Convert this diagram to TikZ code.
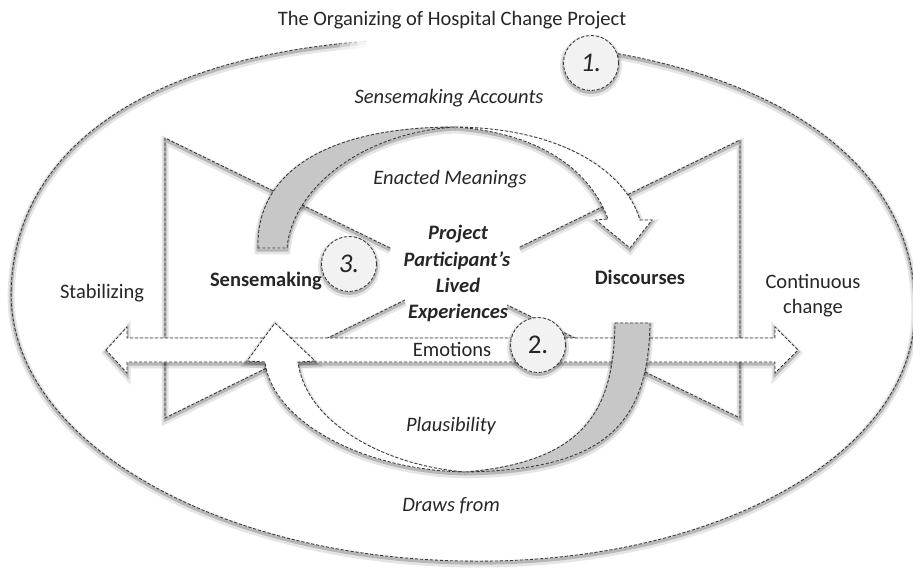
\documentclass[tikz,border=0pt]{standalone}
\usepackage{fontspec}
\setmainfont{Carlito}
\begin{document}
\begin{tikzpicture}[x=1pt,y=-1pt,
  ln/.style={draw=black!78, line width=0.85pt, dash pattern=on 3.2pt off 1.8pt, line join=miter},
  shad/.style={preaction={draw=black,opacity=0.10,line width=7pt,solid,transform canvas={yshift=-2.8pt}},
               preaction={draw=black,opacity=0.20,line width=3pt,solid,transform canvas={yshift=-2pt}}},
  txt/.style={text=black!85, font=\fontsize{20.5}{26}\selectfont, inner sep=0pt, anchor=base},
  circ/.style={circle, minimum size=55pt, inner sep=0pt, fill=black!5, ln, shad, text=black!85,
               font=\fontsize{27}{30}\selectfont},
  grayband/.style={ln, shad, fill=black!22},
  whiteband/.style={ln, shad, fill=white}
]
\useasboundingbox (0,0) rectangle (913,570);
\fill[white] (0,0) rectangle (913,570);

% outer ellipse
\draw[ln, shad, rotate around={-1.5:(463,302)}]
  (11,302) .. controls (11,139) and (183,39) .. (463,39)
  .. controls (743,39) and (915,139) .. (915,302)
  .. controls (915,446) and (716,561) .. (463,561)
  .. controls (210,561) and (11,446) .. (11,302) -- cycle;
% gap at the top, under the title
\fill[white] (366,22) rectangle (578,62);
\fill[white,opacity=0.35] (340,22) rectangle (366,62);
\fill[white,opacity=0.45] (350,22) rectangle (366,62);
\fill[white,opacity=0.6] (358,22) rectangle (366,62);

% bow-tie triangles
\draw[ln, shad] (390,248) -- (165,138) -- (165,418) -- (405,300);
\draw[ln, shad] (520,247) -- (740,140) -- (740,418) -- (507,305);

% horizontal double arrow
\path[ln, shad, fill=white] (106,350) -- (127,327) -- (127,338) -- (775,338) -- (775,327)
  -- (798,350) -- (775,373) -- (775,362) -- (127,362) -- (127,373) -- cycle;

% top curved arrow (Enacted Meanings)
\path[grayband] (258,248) .. controls (256,170) and (330,127) .. (455,127)
  .. controls (360,133) and (292,190) .. (287,248) -- cycle;
\path[whiteband] (455,127) .. controls (560,128) and (625,170) .. (640,220)
  -- (652,220) -- (630,248) -- (596,220) -- (608,219)
  .. controls (590,170) and (540,133) .. (455,127) -- cycle;

% bottom curved arrow (Plausibility)
\path[grayband] (615,323) -- (650,323) .. controls (648,420) and (610,470) .. (465,472)
  .. controls (585,462) and (614,410) .. (615,323) -- cycle;
\path[whiteband] (465,472) .. controls (360,470) and (272,420) .. (265,362)
  -- (247,361) -- (275,323) -- (315,361) -- (298,362)
  .. controls (305,420) and (380,465) .. (465,472) -- cycle;

% numbered circles
\node[circ] (c1) at (591,63) {\itshape 1.};
\node[circ] (c2) at (538,345) {2.};
\node[circ] (c3) at (349,264) {\itshape 3.};

% texts
\node[txt] (title) at (452,25.5) {The Organizing of Hospital Change Project};
\node[txt] (acc) at (449,103.5) {\itshape Sensemaking Accounts};
\node[txt] (enact) at (450,184.5) {\itshape Enacted Meanings};
\node[txt] (sm) at (266,286.5) {\bfseries Sensemaking};
\node[txt] (stab) at (102,298.5) {Stabilizing};
\node[txt] (disc) at (640,284.5) {\bfseries Discourses};
\node[txt] (cont1) at (813,288.5) {Continuous};
\node[txt] (cont2) at (813,313) {change};
\node[txt] (p1) at (458,239.5) {\bfseries\itshape Project};
\node[txt] (p2) at (457,266) {\bfseries\itshape Participant’s};
\node[txt] (p3) at (458,292.5) {\bfseries\itshape Lived};
\node[txt] (p4) at (458,318.5) {\bfseries\itshape Experiences};
\node[txt] (emo) at (452,356.5) {Emotions};
\node[txt] (plaus) at (451,431) {\itshape Plausibility};
\node[txt] (draws) at (451,511) {\itshape Draws from};
\end{tikzpicture}
\end{document}
